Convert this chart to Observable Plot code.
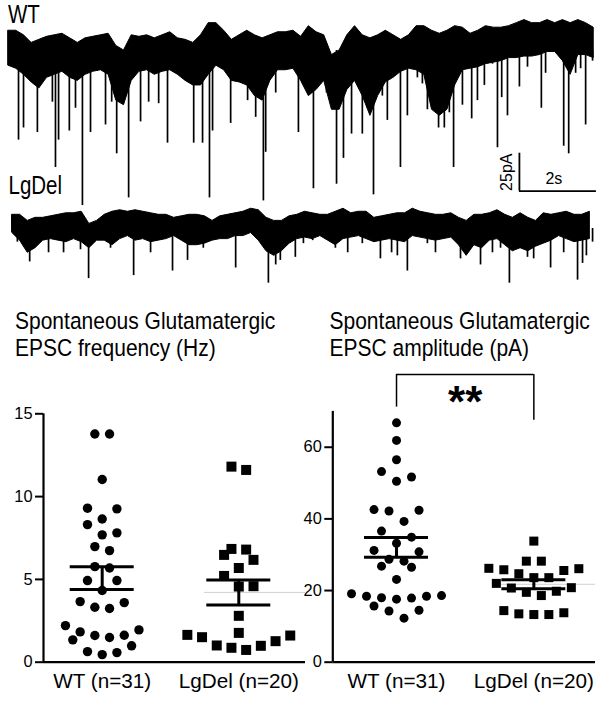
<!DOCTYPE html>
<html><head><meta charset="utf-8">
<script src="https://cdn.jsdelivr.net/npm/d3@7"></script>
<script src="https://cdn.jsdelivr.net/npm/@observablehq/plot@0.6"></script>
<style>
html,body{margin:0;padding:0;background:#fff;}
#fig{position:relative;width:604px;height:701px;overflow:hidden;background:#fff;font-family:"Liberation Sans",Arial,sans-serif;color:#000;}
.lbl{position:absolute;font-size:20.5px;line-height:20.5px;transform:scaleY(1.22);transform-origin:0 0;white-space:nowrap;}
.ttl{position:absolute;font-size:21px;line-height:23.8px;transform:scaleY(1.12);transform-origin:0 0;white-space:nowrap;}
</style></head><body><div id="fig"></div>
<script>
// ---------- trace data (time in s, current in pA) ----------
const traceStep = 0.2;
const wtStart = 0, lgStart = 0.1;
const wtTop = [13,13,10,5,7,9,10,11,8,5, 8,9,10,11,3,0,10,9,10,8, 10,12,8,7,5,10,18,18,13,7, 10,13,10,8,10,12,12,13,9,16, 12,10,-3,0,10,16,10,8,10,13, 10,7,10,16,16,13,11,13,16,15, 11,13,16,15,15,16,18,20,18,18, 20,18,20,18,20,18,15];
const wtBottom = [-10,-12,-16,-21,-25,-18,-16,-14,-18,-20, -16,-14,-13,-16,-33,-36,-20,-14,-13,-16, -14,-13,-16,-20,-23,-23,-16,-10,-13,-20, -21,-23,-30,-33,-20,-13,-13,-12,-20,-30, -26,-20,-39,-39,-26,-20,-30,-43,-30,-21, -18,-14,-12,-13,-16,-39,-43,-39,-23,-13, -12,-11,-9,-8,-7,-5,-5,-4,-4,-3, -1,-1,-7,-16,-3,-3,-5];
const wtSpikeT = [0.26,0.39,0.75,1.14,1.22,1.30,1.58,1.74,1.92,2.13,2.52,2.68,2.81,3.12,3.43,3.64,3.90,4.13,4.81,5.04,5.22,5.30,5.77,6.21,6.42,6.62,6.68,6.94,7.53,7.92,8.26,8.52,8.70,8.91,9.19,9.32,9.48,9.71,9.84,10.18,10.36,10.62,10.75,10.88,11.17,11.32,11.45,11.56,11.79,12.03,12.18,12.36,12.57,12.70,12.81,12.96,13.27,13.48,13.84,13.95,14.42,14.55,14.73,14.86,14.99,15.17];
const wtSpikeAmp = [-59,-51,-54,-34,-77,-59,-53,-38,-102,-54,-49,-34,-68,-97,-47,-34,-35,-61,-61,-61,-97,-53,-48,-33,-44,-99,-67,-28,-54,-91,-28,-88,-71,-55,-55,-38,-95,-30,-46,-77,-43,-18,-22,-39,-51,-51,-41,-77,-36,-45,-33,-23,-9,-64,-31,-43,-24,-11,-38,-15,-63,-68,-15,-12,-49,-7];
const lgTop = [9,9,5,7,7,8,9,10,10,11, 3,5,9,11,12,11,12,11,10,9, 9,7,8,9,9,8,5,8,9,10, 11,13,12,7,5,5,8,9,11,10, 9,9,11,13,10,11,11,7,8,9, 10,10,13,11,10,9,9,10,7,5, 9,9,10,12,9,7,10,7,5,10, 9,10,11,9,9,11];
const lgBottom = [-3,-8,-16,-13,-8,-7,-8,-9,-7,-9, -13,-8,-8,-11,-7,-5,-8,-7,-9,-8, -7,-5,-8,-11,-11,-10,-8,-7,-7,-5, -5,-3,-8,-15,-18,-15,-10,-7,-6,-7, -5,-8,-11,-7,-6,-5,-7,-9,-8,-7, -8,-9,-5,-6,-7,-8,-7,-6,-11,-18, -11,-13,-8,-7,-11,-15,-13,-15,-12,-10, -8,-5,-7,-9,-8,-7];
const lgSpikeT = [0.23,0.55,1.04,1.43,1.87,2.08,2.65,3.25,3.69,4.26,4.65,5.06,5.90,6.75,6.94,7.06,7.45,7.66,7.90,8.49,8.81,9.19,9.66,9.95,10.10,10.36,10.88,11.09,11.74,12.26,12.57,12.78,13.01,13.48,13.64,14.08,14.42,14.78,14.91,15.01,15.17];
const lgSpikeAmp = [-9,-22,-16,-16,-14,-33,-13,-31,-16,-28,-21,-13,-26,-36,-24,-21,-19,-10,-8,-13,-16,-10,-20,-16,-18,-28,-10,-16,-20,-24,-16,-13,-36,-19,-20,-26,-16,-34,-23,-18,-9];
const scaleBar = {t0: 13.27, i0: -92.6, dt: 2, di: 25};

// ---------- scatter data ----------
const groups = ["WT (n=31)", "LgDel (n=20)"];
const freqWT = [13.78,13.78,11.03,9.26,9.30,8.65,8.31,7.69,7.81,6.98,6.74,5.69,5.77,4.93,4.93,4.33,3.60,3.66,3.24,3.32,2.21,1.83,1.95,1.35,1.61,1.49,1.63,0.99,0.64,0.46,0.58];
const freqLgDel = [11.61,11.81,6.48,6.84,6.80,6.18,5.69,5.21,4.59,4.57,2.80,1.61,1.27,1.77,1.65,0.99,0.74,0.87,1.01,1.51];
const ampWT = [66.8,61.9,56.5,53.2,50.5,51.7,42.6,42.2,42.4,39.3,36.6,34.9,33.2,31.2,30.8,28.7,28.2,26.8,26.5,23.1,18.6,18.4,17.9,17.6,18.0,18.4,19.1,14.5,14.3,15.7,12.3];
const ampLgDel = [33.8,28.2,28.2,26.2,25.8,25.6,26.1,24.7,23.6,23.6,22.0,20.7,19.5,18.6,19.8,20.8,14.4,13.5,13.3,13.3,13.8];
const freqMean = [5.08, 4.215], freqSEM = [0.69, 0.755];
const ampMean = [32.05, 21.75], ampSEM = [2.75, 1.25];
const freqTicks = [0,5,10,15], ampTicks = [0,20,40,60];
const sig = [{a: 0, b: 1, label: "**"}];

// ---------- helpers ----------
const fig = document.getElementById("fig");
const FONT = '"Liberation Sans", Arial, sans-serif';
function place(el, left, top) {
  el.style.position = "absolute"; el.style.left = left + "px"; el.style.top = top + "px";
  el.style.maxWidth = "none";
  fig.appendChild(el);
}
function addText(cls, html, left, top) {
  const d = document.createElement("div");
  d.className = cls; d.innerHTML = html; d.style.left = left + "px"; d.style.top = top + "px";
  fig.appendChild(d);
}
const svgStyle = {background: "transparent", overflow: "visible", fontFamily: FONT, color: "black"};

// GraphPad-like row beeswarm: returns pixel offsets
function beeswarm(values, pxPerUnit, slotPx, rowPx) {
  const idx = values.map((v, i) => i).sort((a, b) => values[a] - values[b]);
  const rows = []; let cur = null;
  for (const i of idx) {
    if (cur && (values[i] - values[cur[0]]) * pxPerUnit < rowPx) cur.push(i);
    else { cur = [i]; rows.push(cur); }
  }
  const off = new Array(values.length);
  for (const row of rows) {
    const n = row.length;
    const desc = row.slice().sort((a, b) => values[b] - values[a]);
    const slots = d3.range(n).map(j => (j - (n - 1) / 2) * 2 * slotPx);
    let L = 0, R = n - 1;
    desc.forEach((i, k) => { off[i] = (k % 2 === 0) ? slots[L++] : slots[R--]; });
  }
  return off;
}

// ---------- traces ----------
function trace(top, bottom, start, spT, spA, yDomain, height, extra) {
  const env = top.map((hi, k) => ({t: start + k * traceStep, hi, lo: bottom[k]}));
  const spikes = spT.map((t, i) => ({t, a: spA[i]}));
  return Plot.plot({
    width: 604, height, margin: 0,
    x: {domain: [-0.208, 15.48], axis: null},
    y: {domain: yDomain, axis: null},
    style: svgStyle,
    marks: [
      Plot.areaY(env, {x: "t", y1: "lo", y2: "hi", fill: "black", stroke: "black", strokeWidth: 1}),
      Plot.ruleX(spikes, {x: "t", y1: 0, y2: "a", stroke: "black", strokeWidth: 1.7}),
      ...extra
    ]
  });
}
const bar = [scaleBar];
place(trace(wtTop, wtBottom, wtStart, wtSpikeT, wtSpikeAmp, [-105.3, 32.9], 210, [
  Plot.ruleX(bar, {x: "t0", y1: "i0", y2: d => d.i0 + d.di, stroke: "black", strokeWidth: 1.8}),
  Plot.ruleY(bar, {y: "i0", x1: "t0", x2: d => d.t0 + d.dt, stroke: "black", strokeWidth: 1.8}),
  Plot.text(bar, {x: d => d.t0 + d.dt / 2, y: "i0", text: d => d.dt + "s", dx: -4, dy: -12.5, fontSize: 16}),
  Plot.text(bar, {x: "t0", y: d => d.i0 + d.di / 2, text: d => d.di + "pA", rotate: -90, dx: -13, fontSize: 16})
]), 0, 0);
place(trace(lgTop, lgBottom, lgStart, lgSpikeT, lgSpikeAmp, [-47.4, 21.7], 105, []), 0, 195);

addText("lbl", "WT", 8, 1.7);
addText("lbl", "LgDel", 8.5, 173.4);

// ---------- scatter panels ----------
function panel(o) {
  const {values, mean, sem, ticks, yDomain, xDomain, width, height, mTop, mBottom, mLeft, mRight, shapes, radii, slotPx, extra = []} = o;
  const pxY = (height - mTop - mBottom) / (yDomain[1] - yDomain[0]);
  const unitPx = (width - mLeft - mRight) / (xDomain[1] - xDomain[0]);
  const dots = [];
  values.forEach((vals, g) => {
    const off = beeswarm(vals, pxY, slotPx, 15.2);
    vals.forEach((v, i) => dots.push({g, v, x: g + off[i] / unitPx}));
  });
  const stats = mean.map((m, g) => ({g, m, lo: m - sem[g], hi: m + sem[g]}));
  const hw = 32 / unitPx;
  return Plot.plot({
    width, height, marginTop: mTop, marginBottom: mBottom, marginLeft: mLeft, marginRight: mRight,
    x: {domain: xDomain, label: null},
    y: {domain: yDomain, label: null},
    style: svgStyle,
    marks: [
      Plot.ruleY(stats.filter(d => d.g === 1), {y: "m", x1: d => d.g - 0.25, x2: xDomain[1], stroke: "#cfcfcf", strokeWidth: 1}),
      Plot.dot(dots.filter(d => d.g === 0), {x: "x", y: "v", r: radii[0], symbol: shapes[0], fill: "black"}),
      Plot.dot(dots.filter(d => d.g === 1), {x: "x", y: "v", r: radii[1], symbol: shapes[1], fill: "black"}),
      Plot.ruleY(stats, {y: "hi", x1: d => d.g - hw, x2: d => d.g + hw, stroke: "black", strokeWidth: 3}),
      Plot.ruleY(stats, {y: "lo", x1: d => d.g - hw, x2: d => d.g + hw, stroke: "black", strokeWidth: 3}),
      Plot.ruleX(stats, {x: "g", y1: "lo", y2: "hi", stroke: "black", strokeWidth: 3}),
      Plot.ruleY([yDomain[0]], {stroke: "black", strokeWidth: 2.2}),
      Plot.ruleX([xDomain[0]], {stroke: "black", strokeWidth: 2.2}),
      Plot.axisY({ticks, tickSize: 8, tickPadding: 3, fontSize: 16.4, strokeWidth: 2, label: null}),
      Plot.axisX({ticks: [0, 1], tickFormat: i => groups[i], tickSize: 0, tickPadding: 11, fontSize: 20.7, label: null}),
      ...extra
    ]
  });
}

place(panel({
  values: [freqWT, freqLgDel], mean: freqMean, sem: freqSEM, ticks: freqTicks,
  yDomain: [0, 15], xDomain: [-0.4297, 1.4883], width: 310, height: 336,
  mTop: 48.3, mBottom: 39.3, mLeft: 43, mRight: 5,
  shapes: ["circle", "square"], radii: [4.7, 5.64], slotPx: 7.35
}), 0, 365);

place(panel({
  values: [ampWT, ampLgDel], mean: ampMean, sem: ampSEM, ticks: ampTicks,
  yDomain: [0, 70], xDomain: [-0.464, 1.449], width: 304, height: 336,
  mTop: 45.9, mBottom: 39.3, mLeft: 32.3, mRight: 9,
  shapes: ["circle", "square"], radii: [4.5, 5.08], slotPx: 7.5,
  extra: [
    Plot.ruleY(sig, {y: 80.3, x1: "a", x2: "b", stroke: "black", strokeWidth: 1.5}),
    Plot.ruleX(sig, {x: "a", y1: 80.3, y2: 71.2, stroke: "black", strokeWidth: 1.5}),
    Plot.ruleX(sig, {x: "b", y1: 80.3, y2: 67.5, stroke: "black", strokeWidth: 1.5}),
    Plot.text(sig, {x: d => (d.a + d.b) / 2, y: 68.3, text: "label", lineAnchor: "bottom", fontSize: 44, fontWeight: "bold"})
  ]
}), 300, 365);

addText("ttl", "Spontaneous Glutamatergic<br>EPSC frequency (Hz)", 15, 308);
addText("ttl", "Spontaneous Glutamatergic<br>EPSC amplitude (pA)", 329.5, 308);
</script></body></html>
